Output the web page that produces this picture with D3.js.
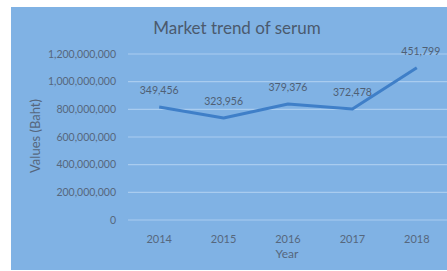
<!DOCTYPE html>
<html>
<head>
<meta charset="utf-8">
<script src="https://cdn.jsdelivr.net/npm/d3@7"></script>
<style>
    body { margin: 0; background: #fff; }
    text { font-family: Lato, "Open Sans", sans-serif; }
</style>
</head>
<body>
<div id="chart"></div>
<script>
// chart data
var years = ["2014", "2015", "2016", "2017", "2018"];
var values = [817000000, 737000000, 838000000, 802000000, 1101000000];
var pointLabels = ["349,456", "323,956", "379,376", "372,478", "451,799"];
var yTicks = [0, 200000000, 400000000, 600000000, 800000000, 1000000000, 1200000000];

var width = 447, height = 271;
var textColor = "#56677d";

var svg = d3.select("#chart")
    .append("svg")
    .attr("width", width)
    .attr("height", height);

svg.append("rect")
    .attr("x", 11)
    .attr("y", 7)
    .attr("width", width - 11)
    .attr("height", 263)
    .attr("fill", "#80b2e4");

var x = d3.scaleBand().domain(years).range([127, 449]);
var y = d3.scaleLinear().domain([0, 1200000000]).range([220, 54]);

// gridlines
svg.append("g")
    .selectAll("line")
    .data(yTicks)
    .enter()
    .append("line")
    .attr("x1", 128)
    .attr("x2", width)
    .attr("y1", d => y(d))
    .attr("y2", d => y(d))
    .attr("stroke", "#a9ccef")
    .attr("stroke-width", 1.2);

// y axis labels
svg.append("g")
    .selectAll("text")
    .data(yTicks)
    .enter()
    .append("text")
    .attr("x", 116)
    .attr("y", d => y(d) + 3.5)
    .attr("text-anchor", "end")
    .attr("font-size", 10.5)
    .attr("fill", textColor)
    .text(d => d3.format(",")(d));

// x axis labels
svg.append("g")
    .selectAll("text")
    .data(years)
    .enter()
    .append("text")
    .attr("x", d => x(d) + x.bandwidth() / 2)
    .attr("y", 243)
    .attr("text-anchor", "middle")
    .attr("font-size", 11)
    .attr("fill", textColor)
    .text(d => d);

// the line
var line = d3.line()
    .x((d, i) => x(years[i]) + x.bandwidth() / 2)
    .y(d => y(d));

svg.append("path")
    .datum(values)
    .attr("d", line)
    .attr("fill", "none")
    .attr("stroke", "#3f7fc8")
    .attr("stroke-width", 3)
    .attr("stroke-linejoin", "round");

// point labels
svg.append("g")
    .selectAll("text")
    .data(values)
    .enter()
    .append("text")
    .attr("x", (d, i) => x(years[i]) + x.bandwidth() / 2 + (i == 4 ? 4 : 0))
    .attr("y", (d, i) => y(d) - 13)
    .attr("text-anchor", "middle")
    .attr("font-size", 10.5)
    .attr("fill", "#4f5f74")
    .text((d, i) => pointLabels[i]);

// title
svg.append("text")
    .attr("x", 237)
    .attr("y", 34)
    .attr("text-anchor", "middle")
    .attr("font-size", 17)
    .attr("fill", "#4b5a6e")
    .text("Market trend of serum");

// axis titles
svg.append("text")
    .attr("transform", "translate(40,136) rotate(-90)")
    .attr("text-anchor", "middle")
    .attr("font-size", 13)
    .attr("fill", textColor)
    .text("Values (Baht)");

svg.append("text")
    .attr("x", 287)
    .attr("y", 258)
    .attr("text-anchor", "middle")
    .attr("font-size", 12)
    .attr("fill", textColor)
    .text("Year");
</script>
</body>
</html>
